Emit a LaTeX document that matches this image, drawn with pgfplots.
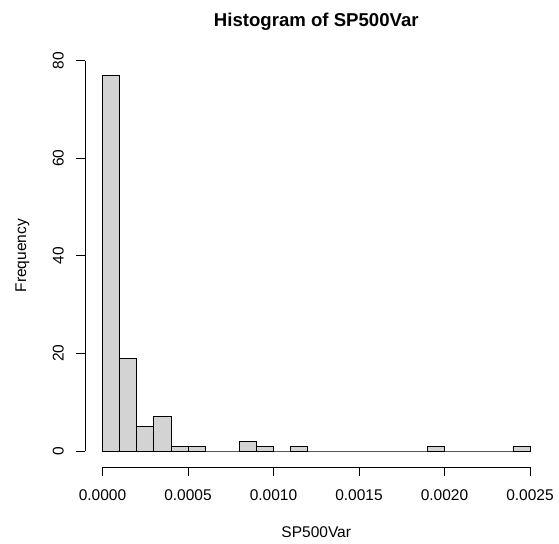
\documentclass[border=0pt]{standalone}
\usepackage{fontspec}
\setmainfont{Liberation Sans}
\usepackage{pgfplots}
\pgfplotsset{compat=1.18}
\definecolor{barfill}{RGB}{211,211,211}
\begin{document}
\begin{tikzpicture}
\begin{axis}[
  scale only axis, width=427.5pt, height=390.5pt,
  xmin=0, xmax=0.0025, ymin=0, ymax=80,
  axis lines=left, axis line style={draw=none},
  xtick={0,0.0005,0.001,0.0015,0.002,0.0025},
  xticklabels={0.0000,0.0005,0.0010,0.0015,0.0020,0.0025},
  scaled x ticks=false,
  ytick={0,20,40,60,80},
  yticklabels={0,20,40,60,80},
  tick align=inside, major tick length=0pt,
  major tick style={draw=none},
  ticklabel style={font=\fontsize{15.5}{17}\selectfont, inner sep=0pt},
  xticklabel shift=38.5pt, yticklabel shift=38.5pt,
  xticklabel style={anchor=north},
  yticklabel style={rotate=90, anchor=south},
  every axis x label/.style={at={(axis description cs:0.5,0)}, yshift=-81pt, anchor=center, font=\fontsize{15.5}{17}\selectfont},
  every axis y label/.style={at={(axis description cs:0,0.5)}, xshift=-80pt, anchor=center, rotate=90, font=\fontsize{15.5}{17}\selectfont},
  xlabel={SP500Var}, ylabel={Frequency},
  title={Histogram of SP500Var},
  every axis title/.style={at={(axis description cs:0.5,1)}, yshift=39pt, anchor=center, font=\fontsize{18.6}{20}\selectfont\bfseries},
  clip=false,
]
\addplot[ybar interval, fill=barfill, draw=black, line width=0.7pt] coordinates {
  (0.0000,77) (0.0001,19) (0.0002,5) (0.0003,7) (0.0004,1) (0.0005,1)
  (0.0006,0) (0.0007,0) (0.0008,2) (0.0009,1) (0.0010,0) (0.0011,1)
  (0.0012,0) (0.0013,0) (0.0014,0) (0.0015,0) (0.0016,0) (0.0017,0)
  (0.0018,0) (0.0019,1) (0.0020,0) (0.0021,0) (0.0022,0) (0.0023,0)
  (0.0024,1) (0.0025,1)
};
% R-style detached axes
\draw[black, line width=0.8pt] ([yshift=-16pt]axis cs:0,0) -- ([yshift=-16pt]axis cs:0.0025,0);
\pgfplotsinvokeforeach{0,0.0005,0.001,0.0015,0.002,0.0025}{
  \draw[black, line width=0.8pt] ([yshift=-16pt]axis cs:#1,0) -- ++(0,-9pt);
}
\draw[black, line width=0.8pt] ([xshift=-17pt]axis cs:0,0) -- ([xshift=-17pt]axis cs:0,80);
\pgfplotsinvokeforeach{0,20,40,60,80}{
  \draw[black, line width=0.8pt] ([xshift=-17pt]axis cs:0,#1) -- ++(-9pt,0);
}
\end{axis}
\pgfresetboundingbox
\path (-102.5pt,-92pt) rectangle (456.5pt,451pt);
\end{tikzpicture}
\end{document}
